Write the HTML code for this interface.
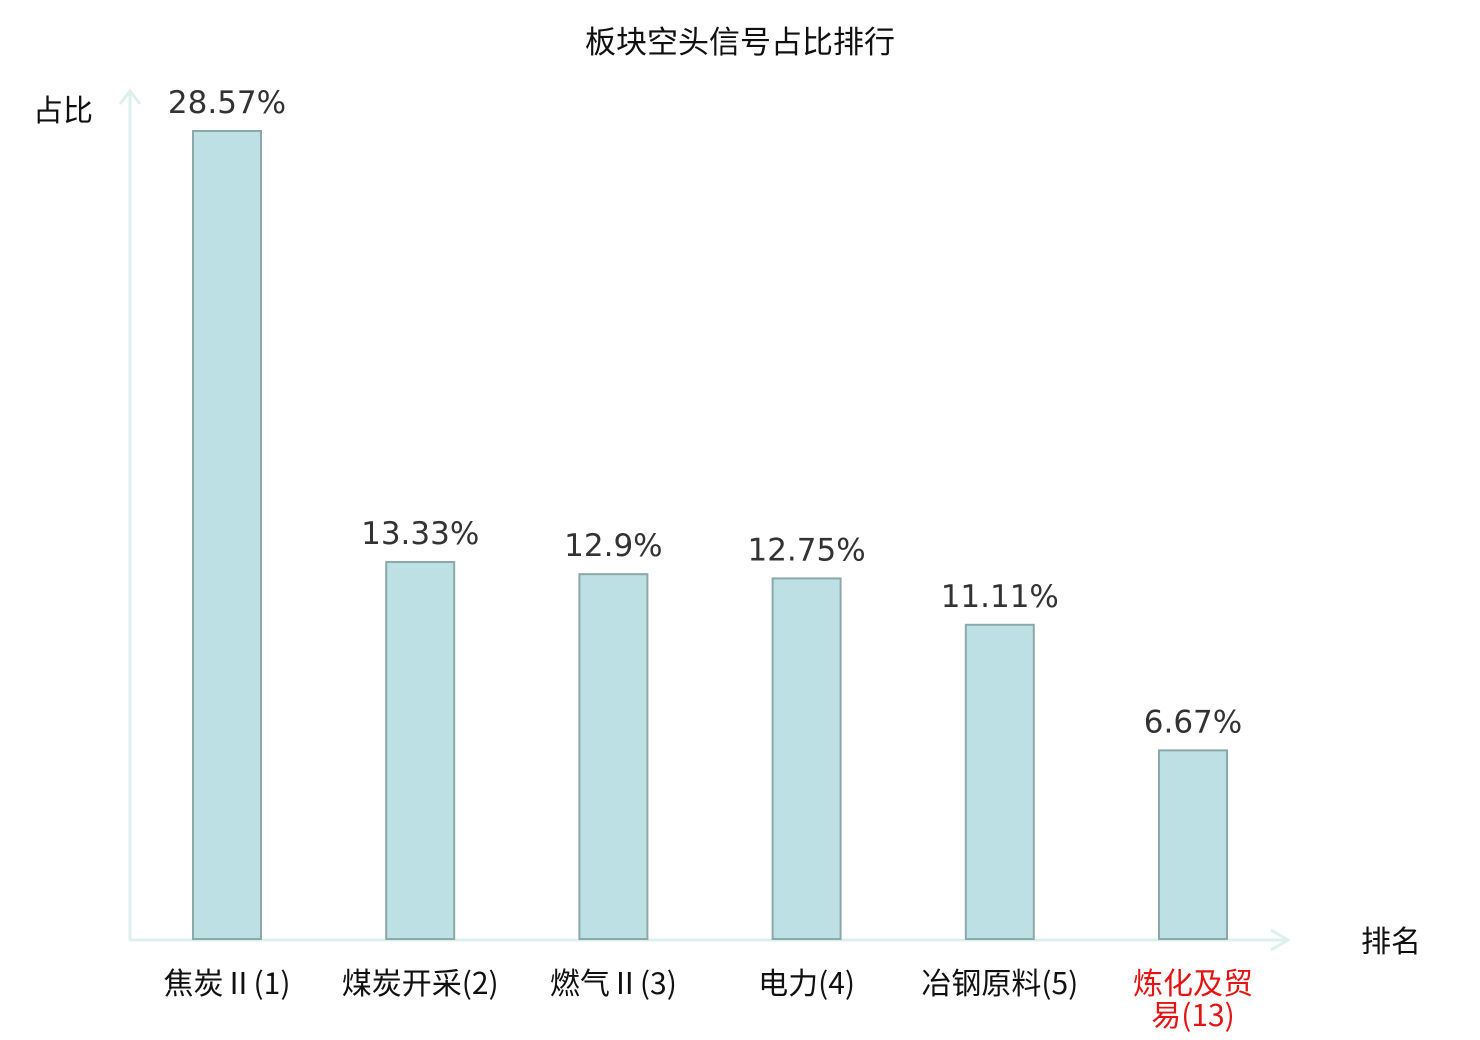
<!DOCTYPE html>
<html><head><meta charset="utf-8">
<style>
html,body{margin:0;padding:0;background:#fff;}
svg{display:block;}
.cjk{font-family:"Liberation Sans","Noto Sans CJK SC",sans-serif;}
.cat{font-family:"Noto Sans CJK SC","Liberation Sans",sans-serif;}
.num{font-family:"DejaVu Sans","Liberation Sans",sans-serif;}
</style></head>
<body>
<svg id="chart" width="1480" height="1040" xmlns="http://www.w3.org/2000/svg">
  <text class="cjk" x="740" y="53" font-size="31" text-anchor="middle" fill="#111">板块空头信号占比排行</text>
  <text class="cjk" x="63" y="121" font-size="30" text-anchor="middle" fill="#111">占比</text>
  <text class="cjk" x="1391" y="952" font-size="30" text-anchor="middle" fill="#111">排名</text>
  <g stroke="#dcf1ee" stroke-width="3" fill="none">
    <line x1="130" y1="92" x2="130" y2="940"/>
    <polyline points="120,104 130,91 140,104"/>
  </g>
  <g stroke="#dcf1ee" stroke-width="3" fill="none">
    <line x1="129" y1="940" x2="1288" y2="940"/>
    <polyline points="1271,930 1288,940 1271,950"/>
  </g>
  <g id="bars"></g>
</svg>
<script>
const categories = ["焦炭Ⅱ(1)", "煤炭开采(2)", "燃气Ⅱ(3)", "电力(4)", "冶钢原料(5)", "炼化及贸易(13)"];
const values = [28.57, 13.33, 12.9, 12.75, 11.11, 6.67];
const valueLabels = ["28.57%", "13.33%", "12.9%", "12.75%", "11.11%", "6.67%"];
const highlight = [false, false, false, false, false, true];

const NS = "http://www.w3.org/2000/svg";
const baseY = 939, pxPerUnit = 808 / 28.57;
const x0 = 227, step = 193.2, barW = 68;
function xScale(i){ return x0 + i * step; }
function yScale(v){ return baseY - v * pxPerUnit; }
const g = document.getElementById("bars");
values.forEach((v, i) => {
  const cx = xScale(i), top = yScale(v);
  const r = document.createElementNS(NS, "rect");
  
  
  r.setAttribute("x", cx - barW/2); r.setAttribute("y", top);
  r.setAttribute("width", barW); r.setAttribute("height", baseY - top);
  r.setAttribute("fill", "#bce0e3"); r.setAttribute("stroke", "#8ca9a9"); r.setAttribute("stroke-width", "2");
  g.appendChild(r);
  const t = document.createElementNS(NS, "text");
  
  
  t.setAttribute("x", cx); t.setAttribute("y", top - 18);
  t.setAttribute("text-anchor", "middle"); t.setAttribute("font-size", "31");
  t.setAttribute("class", "num"); t.setAttribute("fill", "#333");
  t.textContent = valueLabels[i];
  g.appendChild(t);
  const c = document.createElementNS(NS, "text");
  
  
  c.setAttribute("text-anchor", "middle"); c.setAttribute("font-size", "30");
  c.setAttribute("class", "cat"); c.setAttribute("fill", highlight[i] ? "#e41414" : "#111");
  const label = categories[i];
  if (label.length > 8) {
    const a = document.createElementNS(NS, "tspan");
    a.setAttribute("x", cx); a.setAttribute("y", 994); a.textContent = label.slice(0, 4);
    const b = document.createElementNS(NS, "tspan");
    b.setAttribute("x", cx); b.setAttribute("y", 1026); b.textContent = label.slice(4);
    c.appendChild(a); c.appendChild(b);
  } else {
    c.setAttribute("x", cx); c.setAttribute("y", 994); c.textContent = label;
  }
  g.appendChild(c);
});
</script>
</body></html>
